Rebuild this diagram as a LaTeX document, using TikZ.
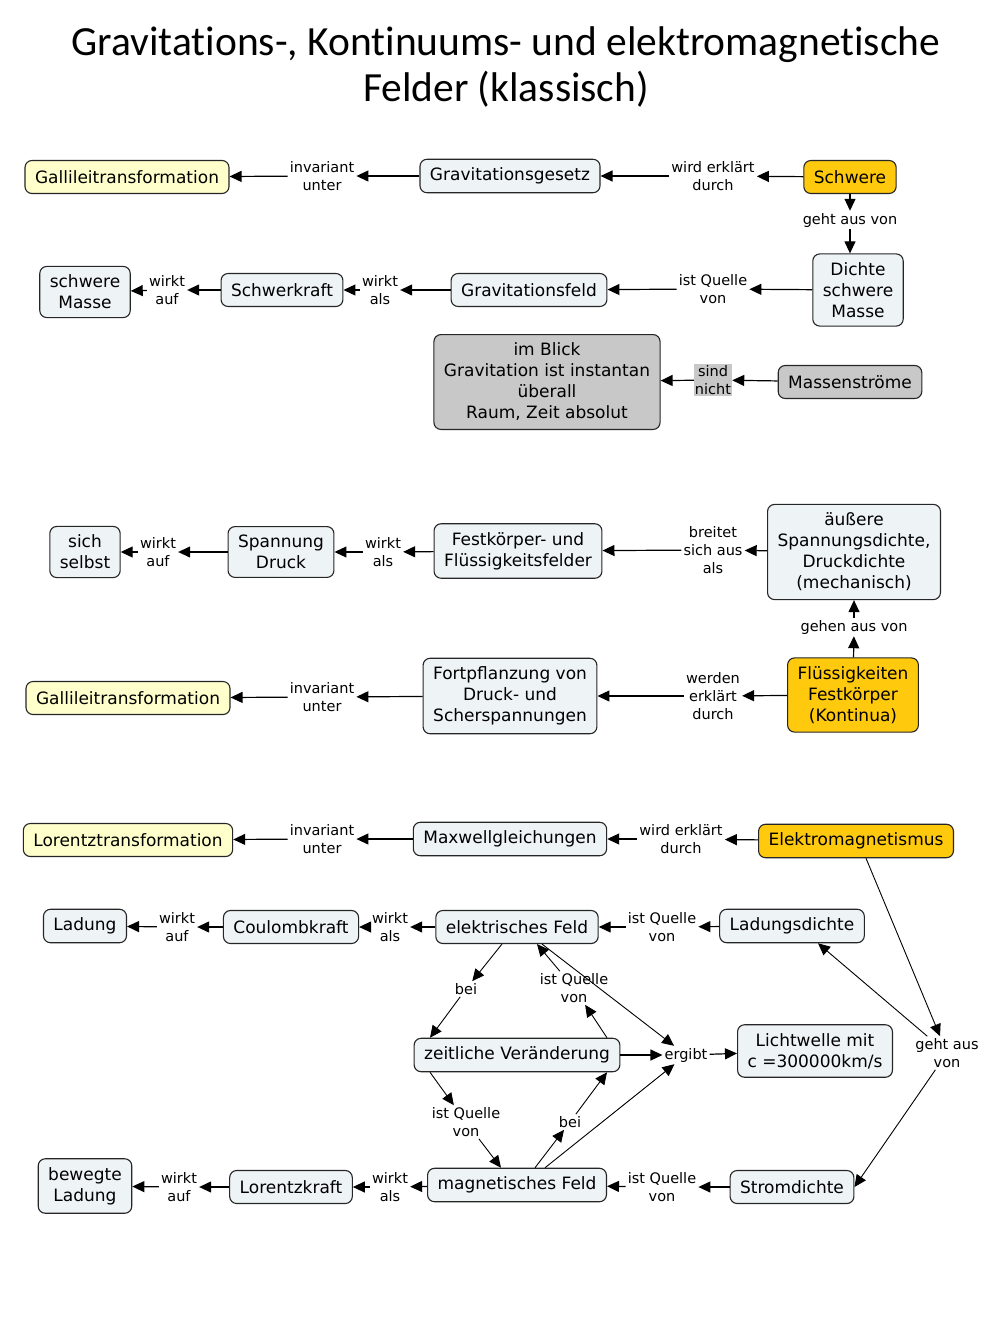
\documentclass[tikz,border=0pt]{standalone}
\usepackage{fontspec}
\setmainfont{DejaVu Sans}
\newfontfamily\titlefont[Ligatures=NoCommon]{Carlito}
\usetikzlibrary{arrows.meta}
\definecolor{boxfill}{HTML}{EEF3F6}
\definecolor{lightyellow}{HTML}{FFFFCC}
\definecolor{goldfill}{HTML}{FFC90E}
\definecolor{grayfill}{HTML}{C8C8C8}
\begin{document}
\begin{tikzpicture}[x=1pt,y=-1pt,
  concept/.style={draw=black!85, line width=1.1pt, rounded corners=7pt, fill=boxfill, align=center, inner xsep=10pt, inner ysep=8.5pt, minimum height=33pt, font=\fontsize{17}{21}\selectfont},
  yellowc/.style={concept, fill=lightyellow},
  goldc/.style={concept, fill=goldfill},
  grayc/.style={concept, fill=grayfill},
  lab/.style={align=center, inner sep=2pt, font=\fontsize{14.5}{18}\selectfont},
  conn/.style={line width=1.2pt, -{Triangle[length=12pt,width=11pt]}},
  diag/.style={line width=0.9pt, -{Triangle[length=12pt,width=11pt]}},
]
\fill[white] (0,0) rectangle (1008,1344);
\useasboundingbox (0,0) rectangle (1008,1344);

\node[font=\titlefont\fontsize{41.5}{46}\selectfont, align=center] (title) at (506,67) {Gravitations-, Kontinuums- und elektromagnetische\\Felder (klassisch)};

% Section 1
\node[yellowc] (gal1) at (127,177) {Gallileitransformation};
\node[lab] (l1) at (322,176) {invariant\\unter};
\node[concept] (ggs) at (510,176) {Gravitationsgesetz};
\node[lab] (l2) at (713,176) {wird erklärt\\durch};
\node[goldc] (schw) at (850,177) {Schwere};
\node[lab] (l3) at (850,220) {geht aus von};
\node[concept] (dsm) at (858,290) {Dichte\\schwere\\Masse};
\node[lab] (l4) at (713,289) {ist Quelle\\von};
\node[concept] (gf) at (529,290) {Gravitationsfeld};
\node[lab] (l5) at (380,290) {wirkt\\als};
\node[concept] (sk) at (282,290) {Schwerkraft};
\node[lab] (l6) at (167,290) {wirkt\\auf};
\node[concept] (sm) at (85,292) {schwere\\Masse};
\node[grayc] (blick) at (547,382) {im Blick\\Gravitation ist instantan\\überall\\Raum, Zeit absolut};
\node[lab, fill=grayfill, inner sep=1pt] (l7) at (713,380) {sind\\nicht};
\node[grayc] (ms) at (850,382) {Massenströme};

\draw[conn] (ggs) -- (l1);
\draw[conn] (l1) -- (gal1);
\draw[conn] (schw) -- (l2);
\draw[conn] (l2) -- (ggs);
\draw[conn] (schw) -- (l3);
\draw[conn] (l3) -- (l3 |- dsm.north);
\draw[conn] (dsm) -- (l4);
\draw[conn] (l4) -- (gf);
\draw[conn] (gf) -- (l5);
\draw[conn] (l5) -- (sk);
\draw[conn] (sk) -- (l6);
\draw[conn] (l6) -- (sm);
\draw[conn] (ms) -- (l7);
\draw[conn] (l7) -- (blick);

% Section 2
\node[concept] (ss) at (85,552) {sich\\selbst};
\node[lab] (m1) at (158,552) {wirkt\\auf};
\node[concept] (spd) at (281,552) {Spannung\\Druck};
\node[lab] (m2) at (383,552) {wirkt\\als};
\node[concept] (ff) at (518,551) {Festkörper- und\\Flüssigkeitsfelder};
\node[lab] (m3) at (713,550) {breitet\\sich aus\\als};
\node[concept] (aus) at (854,552) {äußere\\Spannungsdichte,\\Druckdichte\\(mechanisch)};
\node[lab] (m4) at (854,627) {gehen aus von};
\node[goldc] (fk) at (853,695) {Flüssigkeiten\\Festkörper\\(Kontinua)};
\node[lab] (m5) at (713,696) {werden\\erklärt\\durch};
\node[concept] (fp) at (510,696) {Fortpflanzung von\\Druck- und\\Scherspannungen};
\node[lab] (m6) at (322,697) {invariant\\unter};
\node[yellowc] (gal2) at (128,698) {Gallileitransformation};

\draw[conn] (aus) -- (m3);
\draw[conn] (m3) -- (ff);
\draw[conn] (ff) -- (m2);
\draw[conn] (m2) -- (spd);
\draw[conn] (spd) -- (m1);
\draw[conn] (m1) -- (ss);
\draw[conn] (fk) -- (m4);
\draw[conn] (m4) -- (m4 |- aus.south);
\draw[conn] (fk) -- (m5);
\draw[conn] (m5) -- (fp);
\draw[conn] (fp) -- (m6);
\draw[conn] (m6) -- (gal2);

% Section 3
\node[yellowc] (lt) at (128,840) {Lorentztransformation};
\node[lab] (n1) at (322,839) {invariant\\unter};
\node[concept] (mw) at (510,839) {Maxwellgleichungen};
\node[lab] (n2) at (681,839) {wird erklärt\\durch};
\node[goldc] (em) at (856,841) {Elektromagnetismus};
\node[concept] (lad) at (85,926) {Ladung};
\node[lab] (n3) at (177,927) {wirkt\\auf};
\node[concept] (ck) at (291,927) {Coulombkraft};
\node[lab] (n4) at (390,927) {wirkt\\als};
\node[concept] (ef) at (517,927) {elektrisches Feld};
\node[lab] (n5) at (662,927) {ist Quelle\\von};
\node[concept] (ld) at (792,926) {Ladungsdichte};
\node[lab] (bei1) at (466,989) {bei};
\node[lab] (iq1) at (574,988) {ist Quelle\\von};
\node[concept] (zv) at (517,1055) {zeitliche Veränderung};
\node[lab] (erg) at (686,1055) {ergibt};
\node[concept] (lw) at (815,1051) {Lichtwelle mit\\c =300000km/s};
\node[lab] (gav) at (947,1053) {geht aus\\von};
\node[lab] (iq2) at (466,1122) {ist Quelle\\von};
\node[lab] (bei2) at (570,1122) {bei};
\node[concept] (mf) at (517,1185) {magnetisches Feld};
\node[lab] (n6) at (662,1187) {ist Quelle\\von};
\node[concept] (sd) at (792,1187) {Stromdichte};
\node[concept] (bl) at (85,1186) {bewegte\\Ladung};
\node[lab] (n7) at (179,1187) {wirkt\\auf};
\node[concept] (lk) at (291,1187) {Lorentzkraft};
\node[lab] (n8) at (390,1187) {wirkt\\als};

\draw[conn] (em) -- (n2);
\draw[conn] (n2) -- (mw);
\draw[conn] (mw) -- (n1);
\draw[conn] (n1) -- (lt);
\draw[conn] (ld) -- (n5);
\draw[conn] (n5) -- (ef);
\draw[conn] (ef) -- (n4);
\draw[conn] (n4) -- (ck);
\draw[conn] (ck) -- (n3);
\draw[conn] (n3) -- (lad);
\draw[conn] (sd) -- (n6);
\draw[conn] (n6) -- (mf);
\draw[conn] (mf) -- (n8);
\draw[conn] (n8) -- (lk);
\draw[conn] (lk) -- (n7);
\draw[conn] (n7) -- (bl);

\draw[diag] ([xshift=-15pt]ef.south) -- (bei1);
\draw[diag] (bei1) -- ([xshift=-87pt]zv.north);
\draw[diag] ([xshift=90pt]zv.north) -- (iq1);
\draw[diag] (iq1) -- ([xshift=20pt]ef.south);
\draw[diag] ([xshift=25pt]ef.south) -- (erg);
\draw[conn] (zv) -- (erg);
\draw[conn] (erg) -- (lw);
\draw[diag] ([xshift=-87pt]zv.south) -- (iq2);
\draw[diag] (iq2) -- ([xshift=-16pt]mf.north);
\draw[diag] ([xshift=18pt]mf.north) -- (bei2);
\draw[diag] (bei2) -- ([xshift=90pt]zv.south);
\draw[diag] ([xshift=28pt]mf.north) -- (erg);
\draw[diag] ([xshift=10pt]em.south) -- (gav);
\draw[diag] (gav) -- ([xshift=26pt]ld.south);
\draw[diag] (gav) -- (sd.east);
\end{tikzpicture}
\end{document}
